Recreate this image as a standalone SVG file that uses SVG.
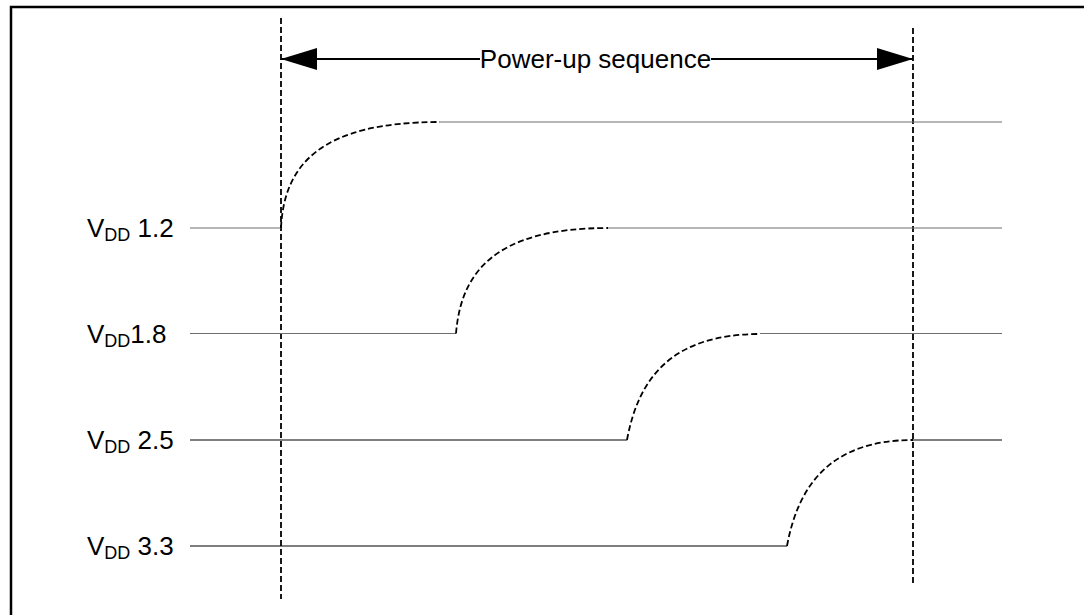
<svg xmlns="http://www.w3.org/2000/svg" width="1084" height="615" viewBox="0 0 1084 615">
<defs>
<style>
.frame{fill:none;stroke:#000;stroke-width:2.5}
.guide{fill:none;stroke:#000;stroke-width:1.8;stroke-dasharray:6 3}
.ramp{fill:none;stroke:#000;stroke-width:1.8;stroke-dasharray:6 3}
.lvl{fill:none;stroke:#6e6e6e;stroke-width:1.2}
.lvlk{fill:none;stroke:#000;stroke-width:1.2}
.arrow{fill:none;stroke:#000;stroke-width:2}
.lbl{font-family:"Liberation Sans",Arial,sans-serif;font-size:26px;fill:#000}
.sub{font-size:18px}
</style>
<marker id="ah" viewBox="0 0 36 22" refX="36" refY="11" markerWidth="36" markerHeight="22" markerUnits="userSpaceOnUse" orient="auto-start-reverse">
<path d="M0,0 L36,11 L0,22 Z" fill="#000"/>
</marker>
</defs>
<rect width="1084" height="615" fill="#fff"/>
<g id="frame">
<path class="frame" d="M11,616 L11,7 L1085,7"/>
</g>
<g id="guides">
<line class="guide" x1="281" y1="18" x2="281" y2="599"/>
<line class="guide" x1="913" y1="28" x2="913" y2="585"/>
</g>
<g id="span">
<line class="arrow" x1="281" y1="59" x2="480" y2="59" marker-start="url(#ah)"/>
<line class="arrow" x1="711" y1="59" x2="913" y2="59" marker-end="url(#ah)"/>
<text class="lbl" x="595.5" y="68" text-anchor="middle">Power-up sequence</text>
</g>
<g id="vdd12">
<text class="lbl" x="87" y="237">V<tspan class="sub" dy="4">DD</tspan><tspan dy="-4"> 1.2</tspan></text>
<line class="lvl" x1="190" y1="228" x2="281" y2="228"/>
<path class="ramp" d="M281,228 C284,165 320,122 440,122"/>
<line class="lvl" x1="440" y1="122" x2="1002" y2="122"/>
</g>
<g id="vdd18">
<text class="lbl" x="87" y="343">V<tspan class="sub" dy="4">DD</tspan><tspan dy="-4">1.8</tspan></text>
<line class="lvl" x1="190" y1="333.5" x2="456" y2="333.5"/>
<path class="ramp" d="M456,333.5 C461,272 495,228 608,228"/>
<line class="lvl" x1="608" y1="228" x2="1002" y2="228"/>
</g>
<g id="vdd25">
<text class="lbl" x="87" y="449">V<tspan class="sub" dy="4">DD</tspan><tspan dy="-4"> 2.5</tspan></text>
<line class="lvlk" x1="190" y1="440" x2="627" y2="440"/>
<path class="ramp" d="M627,440 C638,380 670,334 760,334"/>
<line class="lvl" x1="760" y1="333.5" x2="1002" y2="333.5"/>
</g>
<g id="vdd33">
<text class="lbl" x="87" y="555">V<tspan class="sub" dy="4">DD</tspan><tspan dy="-4"> 3.3</tspan></text>
<line class="lvlk" x1="190" y1="546" x2="787" y2="546"/>
<path class="ramp" d="M787,546 C798,486 830,440 913,440"/>
<line class="lvlk" x1="913" y1="440" x2="1002" y2="440"/>
</g>
</svg>
